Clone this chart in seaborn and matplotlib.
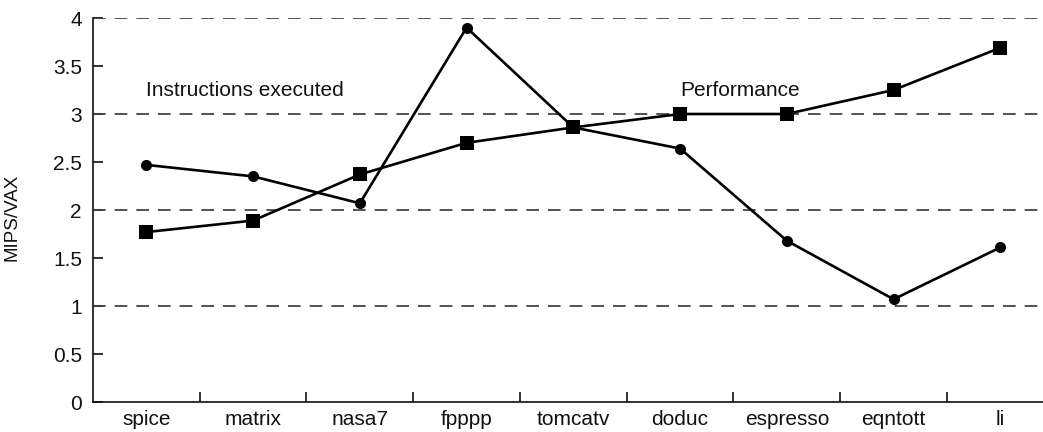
import matplotlib
matplotlib.use("Agg")
import matplotlib.pyplot as plt
from matplotlib.ticker import FixedLocator
import seaborn as sns
import pandas as pd

benchmarks = ["spice", "matrix", "nasa7", "fpppp", "tomcatv", "doduc", "espresso", "eqntott", "li"]
instructions_executed = [2.47, 2.35, 2.07, 3.90, 2.86, 2.64, 1.68, 1.07, 1.61]
performance = [1.77, 1.89, 2.37, 2.70, 2.86, 3.00, 3.00, 3.25, 3.69]
y_ticks = [0, 0.5, 1, 1.5, 2, 2.5, 3, 3.5, 4]
y_tick_labels = ["0", "0.5", "1", "1.5", "2", "2.5", "3", "3.5", "4"]
grid_levels = [1, 2, 3, 4]

sns.set_theme(style="white")
plt.rcParams["font.family"] = ["Liberation Sans", "DejaVu Sans"]

df_instr = pd.DataFrame({"benchmark": benchmarks, "value": instructions_executed})
df_perf = pd.DataFrame({"benchmark": benchmarks, "value": performance})

fig = plt.figure(figsize=(10.43, 4.32), dpi=100)
W, H = 1043, 432
left, right, bottom, top = 93, 1043, 30, 414
ax = fig.add_axes([left / W, bottom / H, (right - left) / W, (top - bottom) / H])

for y in grid_levels:
    ax.axhline(y, color="#444444", lw=1.3, dashes=(7, 5), zorder=1)

sns.lineplot(data=df_instr, x="benchmark", y="value", ax=ax, color="black",
             marker="o", markersize=8, linewidth=1.9, markeredgewidth=0, sort=False, zorder=3)
sns.lineplot(data=df_perf, x="benchmark", y="value", ax=ax, color="black",
             marker="s", markersize=10, linewidth=1.9, markeredgewidth=0, sort=False, zorder=3)

ax.set_xlim(-0.5, 8.4)
ax.set_ylim(0, 4)
ax.set_yticks(y_ticks)
ax.set_yticklabels(y_tick_labels)
ax.set_xticks(range(len(benchmarks)))
ax.set_xticklabels(benchmarks)
ax.xaxis.set_minor_locator(FixedLocator([i + 0.5 for i in range(len(benchmarks) - 1)]))

ax.tick_params(axis="x", which="major", length=0, pad=6, labelsize=15, colors="#111111")
ax.tick_params(axis="x", which="minor", direction="in", length=7, width=1.2, color="#111111", bottom=True)
ax.tick_params(axis="y", which="major", direction="in", length=7, width=1.2, color="#111111",
               pad=8, labelsize=15, labelcolor="#111111", left=True)

for s in ["top", "right"]:
    ax.spines[s].set_visible(False)
for s in ["left", "bottom"]:
    ax.spines[s].set_color("#111111")
    ax.spines[s].set_linewidth(1.2)

ax.set_xlabel("")
ax.set_ylabel("MIPS/VAX", fontsize=13.5, color="#111111")
ax.yaxis.set_label_coords(-0.076, 0.48)

ax.text(0, 3.25, "Instructions executed", fontsize=15, color="#111111", ha="left", va="center")
ax.text(5.0, 3.25, "Performance", fontsize=15, color="#111111", ha="left", va="center")

fig.savefig("out.png", dpi=100)
